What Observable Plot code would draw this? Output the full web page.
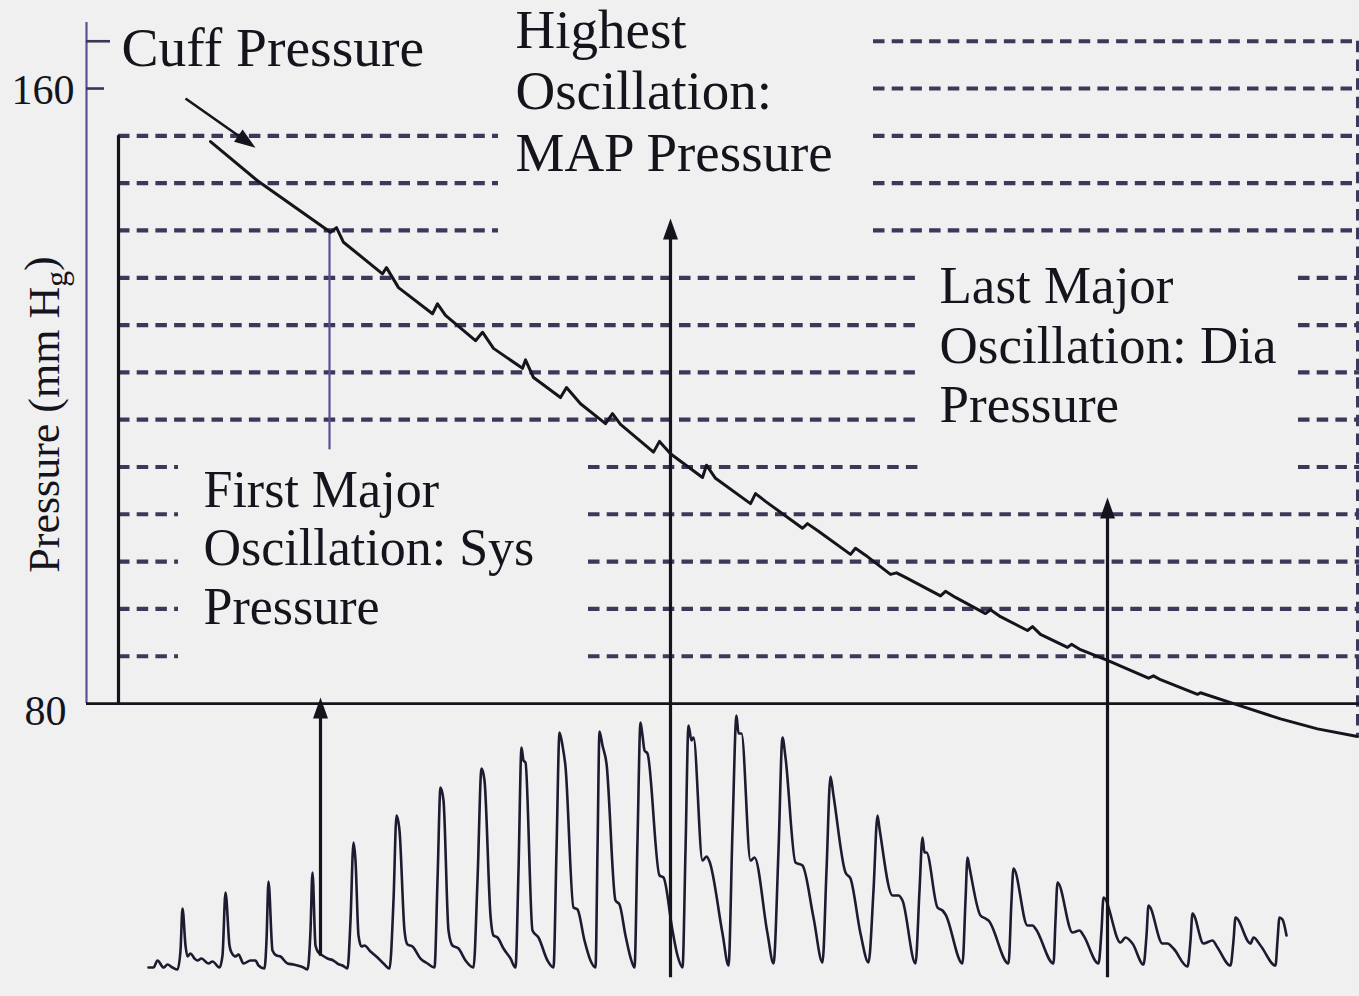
<!DOCTYPE html>
<html>
<head>
<meta charset="utf-8">
<script src="https://cdn.jsdelivr.net/npm/d3@7"></script>
<script src="https://cdn.jsdelivr.net/npm/@observablehq/plot@0.6"></script>
<style>
  html, body { margin: 0; padding: 0; background: #f0f0f0; overflow: hidden; }
  #chart svg { display: block; }
</style>
</head>
<body>
<div id="chart"></div>
<script>
// ---------------- DATA ----------------
// Cuff pressure trace (time in s, pressure in mmHg), with the small ripples of each beat
const cuffTime = [4.2, 5.14, 6.6, 6.72, 6.86, 7.64, 7.72, 7.96, 8.64, 8.74, 8.9, 9.5, 9.64, 9.86, 10.44, 10.5, 10.66, 11.2, 11.32, 11.6, 12.1, 12.24, 12.4, 13.06, 13.18, 13.4, 14.04, 14.12, 14.3, 15.0, 15.1, 15.3, 16.04, 16.14, 16.36, 17.0, 17.1, 17.3, 17.8, 17.92, 18.1, 18.8, 18.9, 19.1, 19.7, 19.8, 20.0, 20.54, 20.64, 20.8, 21.34, 21.42, 21.6, 22.14, 22.96, 23.06, 23.2, 23.94, 24.0, 24.8, 25.6, 26.34, 27.14];
const cuffPressure = [153.1, 148.0, 141.3, 141.9, 140.0, 135.9, 136.7, 134.1, 130.7, 132.0, 130.5, 127.2, 128.3, 126.2, 123.6, 124.7, 122.4, 119.8, 121.1, 119.0, 116.4, 117.7, 116.3, 112.7, 114.1, 112.5, 109.4, 111.0, 109.3, 106.0, 107.3, 106.3, 102.8, 103.4, 102.4, 99.4, 100.2, 99.3, 96.8, 97.0, 96.4, 94.0, 94.6, 93.8, 91.7, 92.2, 91.3, 89.5, 90.0, 89.0, 87.3, 87.7, 87.0, 85.6, 83.3, 83.6, 83.1, 81.2, 81.4, 79.7, 78.0, 76.7, 75.7];

// Oscillation signal (time in s, amplitude in arbitrary units above its own baseline)
const oscTime = [2.96,3.06,3.14,3.26,3.34,3.44,3.54,
  3.60,3.64,3.70,3.74,3.80,3.88,3.94,4.02,4.16,4.24,4.38,
  4.44,4.50,4.58,4.62,4.70,4.76,4.86,5.00,5.10,5.16,5.28,
  5.32,5.36,5.44,5.52,5.60,5.74,5.86,5.94,6.06,6.14,
  6.20,6.24,6.30,6.36,6.44,6.54,6.66,6.74,6.84,6.94,
  7.00,7.06,7.10,7.16,7.22,7.28,7.40,7.54,7.66,7.78,
  7.86,7.92,7.98,8.08,8.14,8.24,8.40,8.54,8.68,
  8.74,8.80,8.86,8.96,9.04,9.16,9.30,9.46,
  9.54,9.62,9.68,9.80,9.86,9.94,10.06,10.20,10.30,
  10.36,10.42,10.46,10.50,10.64,10.76,10.94,11.06,
  11.12,11.18,11.24,11.30,11.46,11.54,11.68,11.80,11.90,
  11.94,11.98,12.04,12.12,12.30,12.38,12.50,12.60,12.68,
  12.74,12.80,12.84,12.88,12.94,13.18,13.26,13.44,13.54,13.64,
  13.70,13.76,13.82,13.86,14.04,14.12,14.18,14.44,14.56,
  14.64,14.72,14.76,14.82,15.00,15.08,15.34,15.46,
  15.56,15.64,15.70,15.90,16.04,16.26,16.44,
  16.52,16.60,16.66,16.90,17.00,17.20,17.36,
  17.46,17.54,17.58,17.84,17.96,18.04,18.30,
  18.38,18.44,18.48,18.52,18.74,18.84,18.90,19.24,
  19.30,19.34,19.38,19.60,19.70,19.76,20.16,
  20.22,20.26,20.54,20.64,20.70,21.06,
  21.10,21.14,21.44,21.58,21.66,21.96,
  22.02,22.06,22.40,22.50,22.64,22.86,
  22.92,22.96,23.24,23.34,23.46,23.74,
  23.80,23.84,24.06,24.24,24.34,24.60,
  24.66,24.70,25.00,25.06,25.20,25.50,
  25.54,25.58,25.64,25.72];
const oscAmplitude = [0.2,0.2,0.9,0.2,0.5,0.2,0.0,
  1.9,6.1,2.4,1.3,1.6,1.1,0.9,1.1,0.6,0.8,0.2,
  1.4,7.7,2.4,1.7,1.3,1.5,0.6,0.9,0.9,0.4,0.1,
  2.9,8.8,1.9,1.4,1.3,0.6,0.5,0.4,0.2,0.0,
  3.9,9.7,2.4,1.7,1.4,1.1,0.9,0.6,0.4,0.1,
  4.9,12.7,10.9,3.4,2.3,2.4,1.8,1.2,0.6,0.1,
  6.9,15.4,13.9,3.9,2.5,2.3,1.1,0.6,0.2,
  8.9,18.2,16.9,3.9,2.4,2.1,0.9,0.2,
  8.9,20.1,18.9,5.4,3.4,3.2,2.1,1.1,0.2,
  9.9,22.2,20.9,20.7,3.9,3.2,0.9,0.2,
  11.9,23.7,22.4,20.3,6.2,6.0,2.9,0.9,0.2,
  11.9,23.8,22.4,20.6,6.9,6.5,3.4,1.2,0.2,
  12.9,24.7,23.4,21.9,21.6,9.4,9.2,3.9,1.4,0.2,
  11.9,24.4,22.9,23.2,10.9,11.3,10.8,3.6,0.4,
  13.9,25.4,23.6,23.6,10.9,11.2,3.6,0.6,
  11.9,23.2,21.2,10.7,10.4,5.2,0.7,
  9.9,19.3,17.4,9.7,9.1,3.6,0.7,
  7.9,15.4,14.1,7.4,7.4,6.9,0.6,
  7.9,13.2,11.7,11.7,6.2,5.9,5.5,0.6,
  6.9,11.2,10.2,5.4,5.1,4.9,0.6,
  6.9,10.1,4.4,4.4,4.1,0.6,
  4.9,8.7,3.7,3.9,3.4,0.6,
  3.9,7.2,2.7,3.2,2.6,0.5,
  3.4,6.4,2.6,2.6,2.1,0.3,
  2.9,5.6,2.6,2.9,2.2,0.4,
  2.9,5.2,2.6,3.2,2.4,0.4,
  2.9,5.2,5.0,3.4];
const OSC_BASE = 45.4;    // where the oscillation band's zero sits on the pressure scale
const OSC_GAIN = 1.3008;  // display gain of the oscillation band

// Dashed reference levels (mmHg) and the time spans each dashed row covers
const gridLevels = [166.15, 160, 153.85, 147.69, 141.54, 135.38, 129.23, 123.08, 116.92, 110.77, 104.62, 98.46, 92.31, 86.15];
const gridSpans = [
  [[17.46, 27.18]],
  [[17.46, 27.18]],
  [[2.36, 9.96], [17.46, 27.18]],
  [[2.36, 9.96], [17.46, 27.18]],
  [[2.36, 9.96], [17.46, 27.18]],
  [[2.36, 18.36], [25.96, 27.18]],
  [[2.36, 18.36], [25.96, 27.18]],
  [[2.36, 18.36], [25.96, 27.18]],
  [[2.36, 18.36], [25.96, 27.18]],
  [[2.36, 3.56], [11.76, 18.36], [25.96, 27.18]],
  [[2.36, 3.56], [11.76, 27.18]],
  [[2.36, 3.56], [11.76, 27.18]],
  [[2.36, 3.56], [11.76, 27.18]],
  [[2.36, 3.56], [11.76, 27.18]]
];

// Axis
const yTickValues = [160, 80];
const yTickLabels = ["160", "80"];
const axisTickLevels = [166.15, 160];
const axisTickEnds = [2.2, 2.08];
const axisTime = 1.72;
const axisTop = 168.6;
const yAxisTitle = "Pressure (mm Hg)";

// Annotations
const annotationText = ["Cuff Pressure", "Highest\nOscillation:\nMAP Pressure", "Last Major\nOscillation: Dia\nPressure", "First Major\nOscillation: Sys\nPressure"];
const annotationTime = [2.42, 10.3, 18.78, 4.06];
const annotationPressure = [162.9, 149.3, 116.6, 90.4];
const annotationSize = [55.5, 55, 53, 52];

// Arrows: start and tip (time, pressure)
const arrowStartTime = [3.7, 6.4, 13.4, 22.14];
const arrowStartP = [158.7, 47.2, 44.4, 44.4];
const arrowTipTime = [5.1, 6.4, 13.4, 22.14];
const arrowTipP = [152.3, 80.8, 143.1, 106.8];

// First major oscillation marker on the cuff trace
const sysMarkTime = 6.58, sysMarkTop = 141.3, sysMarkBottom = 113.0;
// left reference bar
const leftBarTime = 2.36, leftBarTop = 153.85;
const baseLevel = 80;
const rightEdgeTime = 27.14, rightEdgeBottom = 75.8;

// ---------------- BUILD ----------------
const W = 1359, H = 996;
const X_DOMAIN = [0, 27.18];
const Y_DOMAIN = [41.89, 171.45];
const pxPerT = W / (X_DOMAIN[1] - X_DOMAIN[0]);
const pxPerP = H / (Y_DOMAIN[1] - Y_DOMAIN[0]);

const cuff = cuffTime.map((t, i) => ({t, p: cuffPressure[i]}));
const osc = oscTime.map((t, i) => ({t, a: oscAmplitude[i]}));
const gridSegs = [];
gridSpans.forEach((spans, i) => spans.forEach(([a, b]) => gridSegs.push({p: gridLevels[i], a, b})));
const ticks = axisTickLevels.map((p, i) => ({p, e: axisTickEnds[i]}));

const HEAD_R = 10;
const arrows = arrowTipTime.map((t, i) => {
  const dx = (t - arrowStartTime[i]) * pxPerT;
  const dy = -(arrowTipP[i] - arrowStartP[i]) * pxPerP;
  const L = Math.hypot(dx, dy);
  const back = 1.6 * HEAD_R; // stop the shaft inside the head
  return {
    t0: arrowStartTime[i], p0: arrowStartP[i],
    t1: t - (dx / L) * back / pxPerT,
    p1: arrowTipP[i] + (dy / L) * back / pxPerP,
    tt: t, tp: arrowTipP[i],
    angle: Math.atan2(dx, -dy) * 180 / Math.PI,
    w: i === 0 ? 2.6 : 3.2
  };
});

const arrowHead = {
  draw(ctx, size) {
    const r = Math.sqrt(size / Math.PI);
    ctx.moveTo(0, 0);
    ctx.lineTo(-0.75 * r, 2.1 * r);
    ctx.lineTo(0.75 * r, 2.1 * r);
    ctx.closePath();
  }
};

const annotations = annotationText.map((text, i) => ({text, t: annotationTime[i], p: annotationPressure[i], s: annotationSize[i]}));

const INK = "#15141c";
const DASH = "#3d3859";
const PURPLE = "#5d5194";
const FONT = "'Liberation Serif', 'Times New Roman', serif";

const chart = Plot.plot({
  width: W,
  height: H,
  margin: 0,
  x: {domain: X_DOMAIN, axis: null},
  y: {domain: Y_DOMAIN, axis: null},
  style: {background: "#f0f0f0", overflow: "visible"},
  marks: [
    // dashed reference rows
    Plot.ruleY(gridSegs, {y: "p", x1: "a", x2: "b", stroke: DASH, strokeWidth: 4.2, strokeDasharray: "11.5 7.2"}),
    Plot.ruleX([rightEdgeTime], {y1: gridLevels[0], y2: rightEdgeBottom, stroke: DASH, strokeWidth: 3, strokeDasharray: "11.5 7.2"}),
    // y axis
    Plot.ruleX([axisTime], {y1: baseLevel, y2: axisTop, stroke: PURPLE, strokeWidth: 2.2}),
    Plot.ruleY(ticks, {y: "p", x1: axisTime, x2: "e", stroke: "#3b3558", strokeWidth: 2.6}),
    // baseline and left bar
    Plot.ruleY([baseLevel], {x1: axisTime, x2: X_DOMAIN[1], stroke: INK, strokeWidth: 2.8}),
    Plot.ruleX([leftBarTime], {y1: baseLevel, y2: leftBarTop, stroke: INK, strokeWidth: 3.2}),
    // first major oscillation marker
    Plot.ruleX([sysMarkTime], {y1: sysMarkBottom, y2: sysMarkTop, stroke: PURPLE, strokeWidth: 2.2}),
    // cuff pressure trace
    Plot.line(cuff, {x: "t", y: "p", stroke: INK, strokeWidth: 3, strokeLinejoin: "round"}),
    // oscillation trace
    Plot.line(osc, {x: "t", y: d => OSC_BASE + d.a * OSC_GAIN, stroke: "#1f1a30", strokeWidth: 2.6, curve: "monotone-x", strokeLinejoin: "round"}),
    // arrows
    Plot.link(arrows, {x1: "t0", y1: "p0", x2: "t1", y2: "p1", stroke: INK, strokeWidth: "w"}),
    Plot.dot(arrows, {x: "tt", y: "tp", symbol: arrowHead, r: HEAD_R, fill: INK, stroke: "none", rotate: "angle"}),
    // tick labels
    Plot.text([yTickValues[0]], {x: 1.48, y: d => d, text: [yTickLabels[0]], textAnchor: "end", fontSize: 42, fontFamily: FONT, fill: INK, dy: 2}),
    Plot.text([yTickValues[1]], {x: 1.32, y: d => d, text: [yTickLabels[1]], textAnchor: "end", fontSize: 42, fontFamily: FONT, fill: INK, dy: 8}),
    // y axis title
    Plot.text([yAxisTitle], {x: 0.88, y: 117.6, text: d => d, rotate: -90, textAnchor: "middle", fontSize: 44, fontFamily: FONT, fill: INK}),
    // annotations
    Plot.text(annotations, {x: "t", y: "p", text: "text", fontSize: "s", textAnchor: "start", lineAnchor: "bottom", lineHeight: 1.12, fontFamily: FONT, fill: INK})
  ]
});

// render the "g" of Hg as a subscript, like the original
d3.select(chart).selectAll("text").each(function () {
  if (this.textContent === yAxisTitle) {
    const sel = d3.select(this);
    sel.text("Pressure (mm H");
    sel.append("tspan").attr("dy", "0.28em").attr("font-size", "0.72em").text("g");
    sel.append("tspan").attr("dy", "-0.28em").text(")");
  }
});

document.getElementById("chart").appendChild(chart);
</script>
</body>
</html>
